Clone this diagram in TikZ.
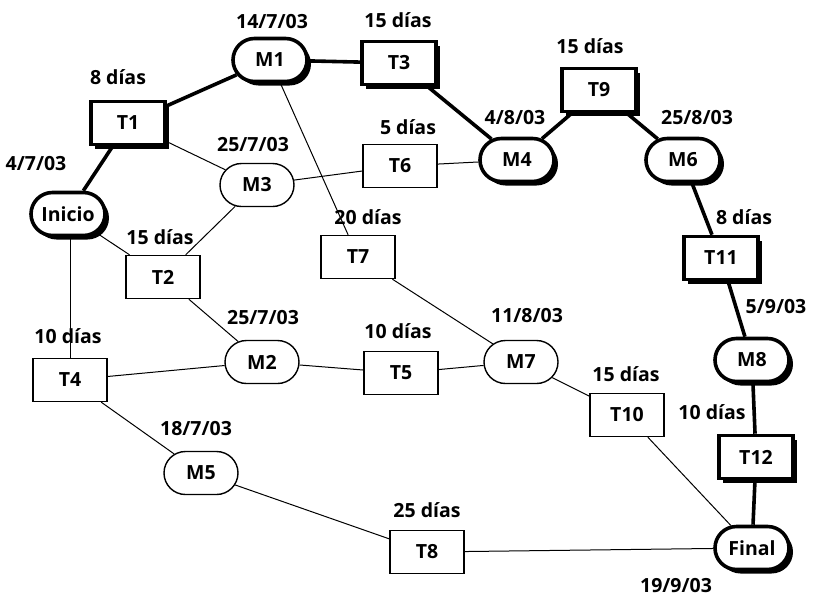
\documentclass[tikz,border=0pt]{standalone}
\usepackage{fontspec}
\setmainfont{Open Sans}
\usetikzlibrary{shapes.misc,shadows,backgrounds}
\begin{document}
\begin{tikzpicture}[x=1pt,y=-1pt,
  every node/.style={font=\fontsize{19.5}{22}\selectfont\bfseries},
  base/.style={draw=black,fill=white,minimum width=74pt,minimum height=43pt,inner sep=0pt},
  taskbox/.style={base,rectangle},
  mile/.style={base,rounded rectangle},
  crit/.style={line width=3.6pt,drop shadow={shadow xshift=4pt,shadow yshift=-4pt,fill=black,opacity=1}},
  norm/.style={line width=1.4pt},
  cedge/.style={line width=3.6pt},
  nedge/.style={line width=1pt},
  lab/.style={inner sep=0pt}]
\useasboundingbox (0,0) rectangle (820,598);
% nodes
\node[mile,crit] (inicio) at (68,214) {Inicio};
\node[taskbox,crit] (t1) at (128,123) {T1};
\node[mile,crit] (m1) at (270,60) {M1};
\node[taskbox,crit] (t3) at (399,63) {T3};
\node[mile,crit] (m4) at (517,160) {M4};
\node[taskbox,crit] (t9) at (599,90) {T9};
\node[mile,crit] (m6) at (683,160) {M6};
\node[taskbox,crit] (t11) at (721,258) {T11};
\node[mile,crit] (m8) at (752,360) {M8};
\node[taskbox,crit] (t12) at (756,457) {T12};
\node[mile,crit] (final) at (752,548) {Final};
\node[mile,norm] (m3) at (257,185) {M3};
\node[taskbox,norm] (t6) at (400,166) {T6};
\node[taskbox,norm] (t7) at (358,257) {T7};
\node[taskbox,norm] (t2) at (163,277) {T2};
\node[taskbox,norm] (t4) at (70,380) {T4};
\node[mile,norm] (m2) at (262,362) {M2};
\node[taskbox,norm] (t5) at (401,373) {T5};
\node[mile,norm] (m7) at (521,362) {M7};
\node[taskbox,norm] (t10) at (627,415) {T10};
\node[mile,norm] (m5) at (201,473) {M5};
\node[taskbox,norm] (t8) at (427,552) {T8};
% edges
\begin{scope}[on background layer]
\draw[cedge] (inicio) -- (t1);
\draw[cedge] (t1) -- (m1);
\draw[cedge] (m1) -- (t3);
\draw[cedge] (t3) -- (m4);
\draw[cedge] (m4) -- (t9);
\draw[cedge] (t9) -- (m6);
\draw[cedge] (m6) -- (t11);
\draw[cedge] (t11) -- (m8);
\draw[cedge] (m8) -- (t12);
\draw[cedge] (t12) -- (final);
\draw[nedge] (t1) -- (m3);
\draw[nedge] (m3) -- (t6);
\draw[nedge] (t6) -- (m4);
\draw[nedge] (m1) -- (t7);
\draw[nedge] (t7) -- (m7);
\draw[nedge] (inicio) -- (t2);
\draw[nedge] (m3) -- (t2);
\draw[nedge] (inicio.south -| t4.north) -- (t4.north);
\draw[nedge] (t4) -- (m2);
\draw[nedge] (t2) -- (m2);
\draw[nedge] (m2) -- (t5);
\draw[nedge] (t5) -- (m7);
\draw[nedge] (m7) -- (t10);
\draw[nedge] (t10) -- (final);
\draw[nedge] (t4) -- (m5);
\draw[nedge] (m5) -- (t8);
\draw[nedge] (t8) -- (final);
\end{scope}
% labels
\node[lab] (l1) at (272,22) {14/7/03};
\node[lab] (l2) at (398,20) {15 días};
\node[lab] (l3) at (118,77) {8 días};
\node[lab] (l4) at (253,145) {25/7/03};
\node[lab] (l5) at (408,127) {5 días};
\node[lab] (l6) at (36,164) {4/7/03};
\node[lab] (l7) at (160,237) {15 días};
\node[lab] (l8) at (368,217) {20 días};
\node[lab] (l9) at (590,46) {15 días};
\node[lab] (l10) at (515,118) {4/8/03};
\node[lab] (l11) at (697,118) {25/8/03};
\node[lab] (l12) at (744,217) {8 días};
\node[lab] (l13) at (776,307) {5/9/03};
\node[lab] (l14) at (68,336) {10 días};
\node[lab] (l15) at (263,318) {25/7/03};
\node[lab] (l16) at (398,331) {10 días};
\node[lab] (l17) at (527,316) {11/8/03};
\node[lab] (l18) at (626,374) {15 días};
\node[lab] (l19) at (712,412) {10 días};
\node[lab] (l20) at (196,429) {18/7/03};
\node[lab] (l21) at (427,510) {25 días};
\node[lab] (l22) at (676,586) {19/9/03};
\end{tikzpicture}
\end{document}
